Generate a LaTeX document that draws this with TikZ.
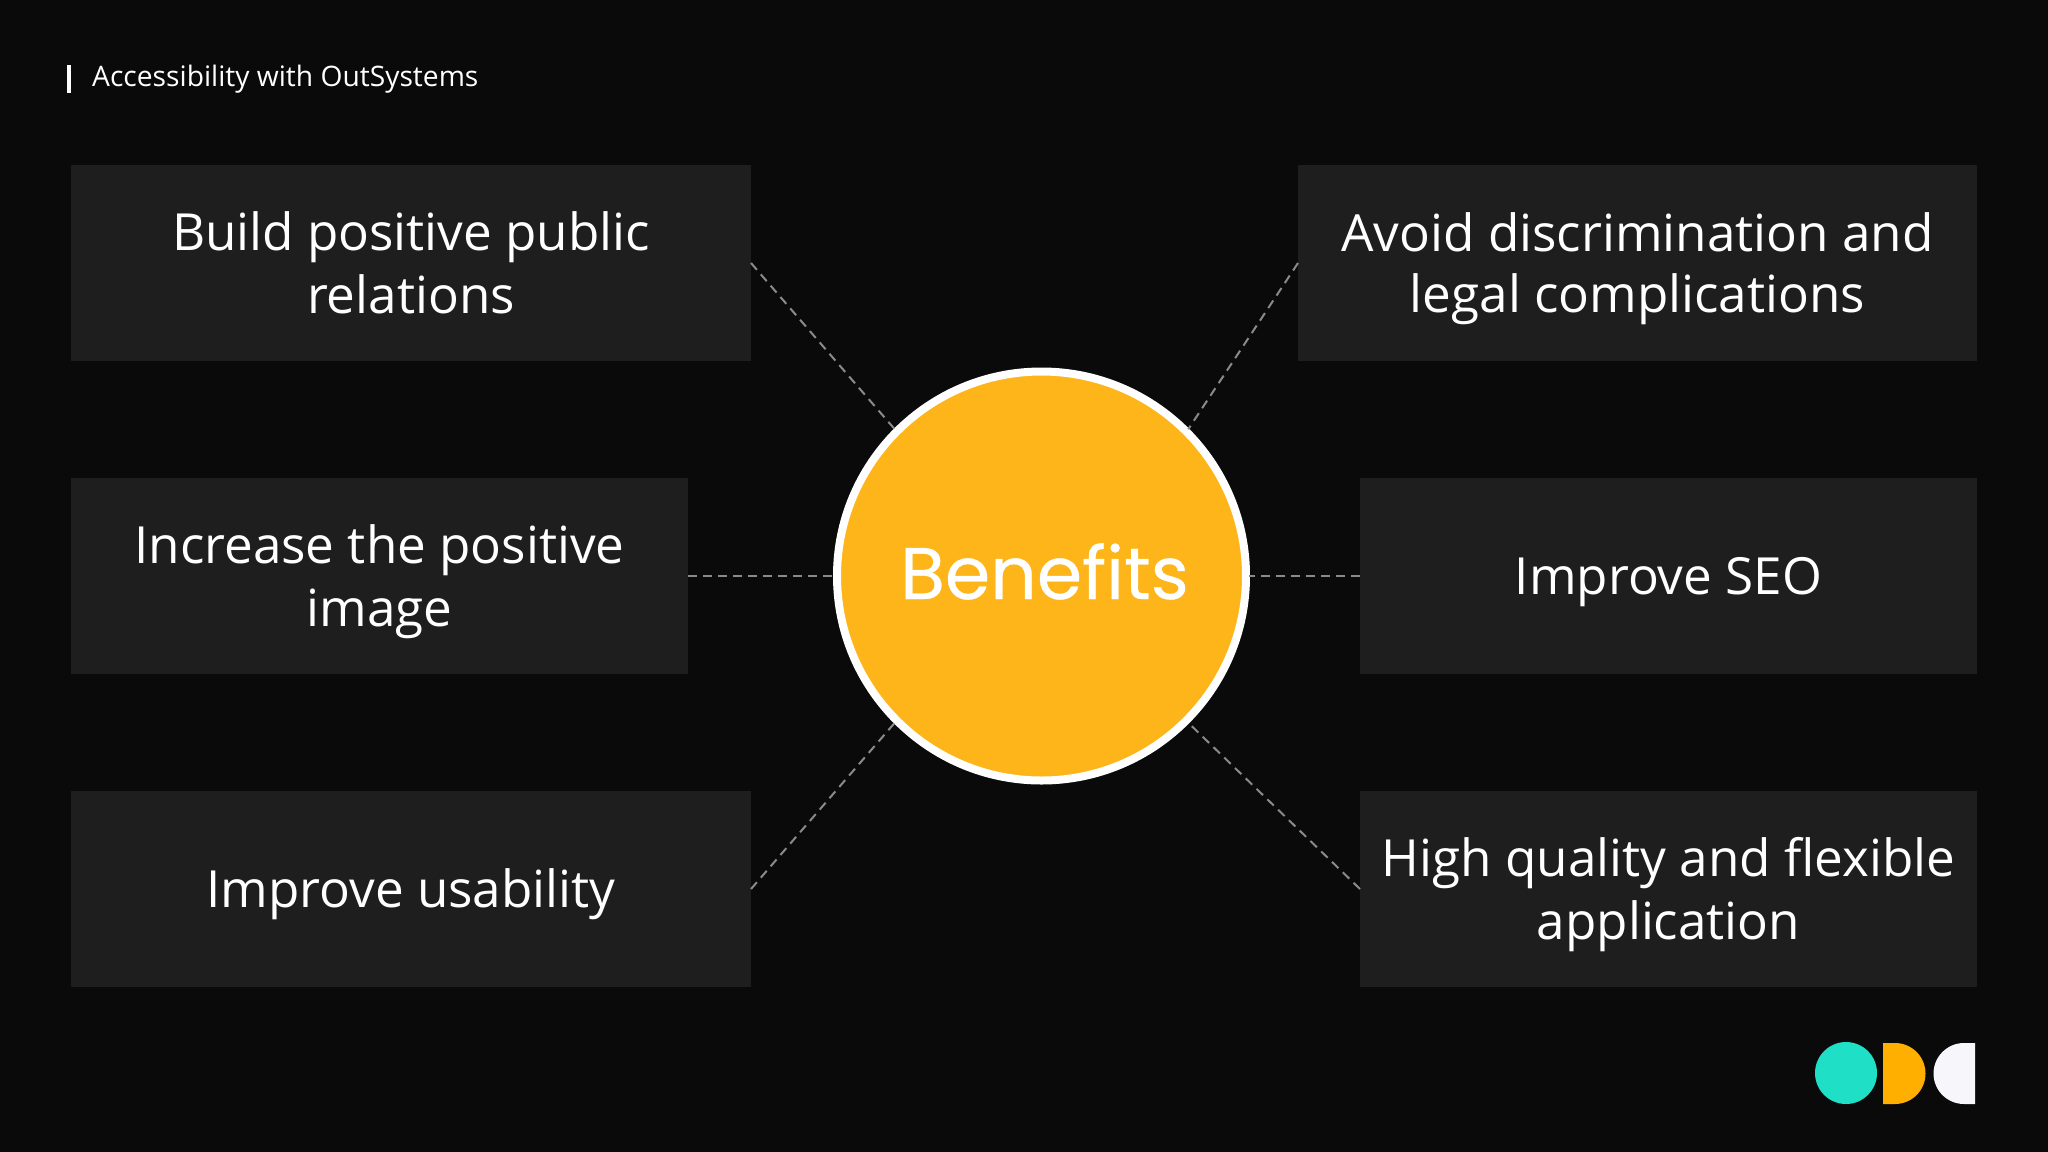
\documentclass[tikz,border=0pt]{standalone}
\usepackage{fontspec}
\setmainfont{Open Sans}
\newfontfamily\headfont[FakeBold=0.4]{Poppins}
\definecolor{bgc}{HTML}{0A0A0B}
\definecolor{boxc}{HTML}{1E1E1F}
\definecolor{amber}{HTML}{FDB519}
\definecolor{teal}{HTML}{1FE0C6}
\definecolor{logoamber}{HTML}{FFAF00}
\definecolor{logowhite}{HTML}{F7F6FB}
\definecolor{dashc}{HTML}{8A8A8A}
\newcommand{\pstrut}{\rule[-11.5pt]{0pt}{61.5pt}}
\tikzset{
  x=1pt,y=-1pt,
  panel/.style={fill=boxc,draw=none,text=white,align=center,inner sep=0pt,outer sep=0pt,
    minimum height=196pt,font=\fontsize{51.2}{61.5}\selectfont},
  link/.style={draw=dashc,line width=2pt,dash pattern=on 9pt off 6pt},
}
\begin{document}
\begin{tikzpicture}
\useasboundingbox (0,0) rectangle (2048,1151.7);
\fill[bgc] (-2,-2) rectangle (2050,1154);
% header
\fill[white] (67,65) rectangle (71,93);
\node[anchor=base west,inner sep=0pt,text=white,font=\fontsize{28.2}{34}\selectfont] (head) at (92,86) {Accessibility with OutSystems};
% panels
\node[panel,minimum width=680pt] (tl) at (411,263) {\pstrut Build positive public\\\pstrut relations};
\node[panel,minimum width=617pt] (ml) at (379.5,576) {\pstrut Increase the positive\\\pstrut image};
\node[panel,minimum width=680pt] (bl) at (411,889) {\pstrut Improve usability};
\node[panel,minimum width=679pt] (tr) at (1637.5,263) {\pstrut Avoid discrimination and\\\pstrut legal complications};
\node[panel,minimum width=617pt] (mr) at (1668.5,576) {\pstrut Improve SEO};
\node[panel,minimum width=617pt] (br) at (1668.5,889) {\pstrut High quality and flexible\\\pstrut application};
% centre
\node[circle,fill=amber,draw=white,line width=8pt,minimum size=409pt,inner sep=0pt,outer sep=3pt,text=white,
  text height=60pt,text depth=14pt,font=\headfont\fontsize{73}{90}\selectfont] (c) at (1041.5,576) {\hspace*{6pt}Benefits};
% connectors
\draw[link] (tl.east) -- (c.135);
\draw[link] (ml.east) -- (c.180);
\draw[link] (bl.east) -- (c.225);
\draw[link] (tr.west) -- (c.45);
\draw[link] (mr.west) -- (c.0);
\draw[link] (br.west) -- (c.315);
% logo
\fill[teal] (1846,1073) circle[radius=31];
\fill[logoamber] (1883,1043) -- (1895,1043) arc[start angle=-90,end angle=90,radius=30.5] -- (1883,1104) -- cycle;
\fill[logowhite] (1975,1043) -- (1964,1043) arc[start angle=-90,end angle=-270,radius=30.5] -- (1975,1104) -- cycle;
\end{tikzpicture}
\end{document}
